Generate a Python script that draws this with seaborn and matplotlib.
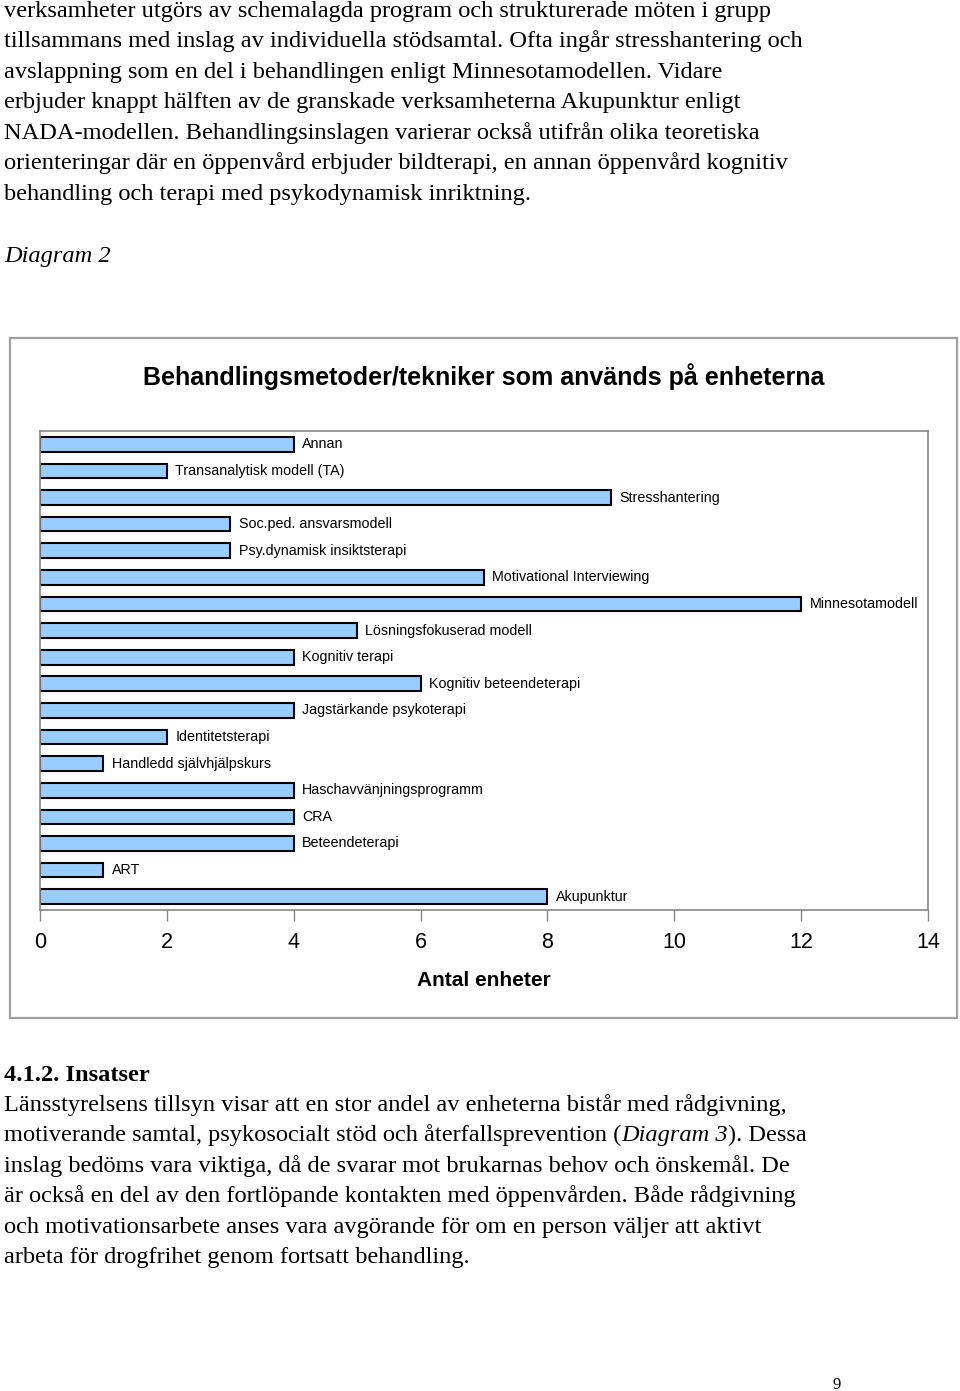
import matplotlib
matplotlib.use('Agg')
import matplotlib.pyplot as plt
import seaborn as sns
import pandas as pd
from matplotlib.patches import Rectangle

# DATA
methods = ['Annan', 'Transanalytisk modell (TA)', 'Stresshantering', 'Soc.ped. ansvarsmodell',
           'Psy.dynamisk insiktsterapi', 'Motivational Interviewing', 'Minnesotamodell',
           'Lösningsfokuserad modell', 'Kognitiv terapi', 'Kognitiv beteendeterapi',
           'Jagstärkande psykoterapi', 'Identitetsterapi', 'Handledd självhjälpskurs',
           'Haschavvänjningsprogramm', 'CRA', 'Beteendeterapi', 'ART', 'Akupunktur']
counts = [4, 2, 9, 3, 3, 7, 12, 5, 4, 6, 4, 2, 1, 4, 4, 4, 1, 8]
x_ticks = [0, 2, 4, 6, 8, 10, 12, 14]

title = 'Behandlingsmetoder/tekniker som används på enheterna'
x_label = 'Antal enheter'

para_top = [
    'verksamheter utgörs av schemalagda program och strukturerade möten i grupp',
    'tillsammans med inslag av individuella stödsamtal. Ofta ingår stresshantering och',
    'avslappning som en del i behandlingen enligt Minnesotamodellen. Vidare',
    'erbjuder knappt hälften av de granskade verksamheterna Akupunktur enligt',
    'NADA-modellen. Behandlingsinslagen varierar också utifrån olika teoretiska',
    'orienteringar där en öppenvård erbjuder bildterapi, en annan öppenvård kognitiv',
    'behandling och terapi med psykodynamisk inriktning.',
]
para_bottom = [
    'Länsstyrelsens tillsyn visar att en stor andel av enheterna bistår med rådgivning,',
    None,  # mixed italic line, handled below
    'inslag bedöms vara viktiga, då de svarar mot brukarnas behov och önskemål. De',
    'är också en del av den fortlöpande kontakten med öppenvården. Både rådgivning',
    'och motivationsarbete anses vara avgörande för om en person väljer att aktivt',
    'arbeta för drogfrihet genom fortsatt behandling.',
]
mixed_line = ['motiverande samtal, psykosocialt stöd och återfallsprevention (', 'Diagram 3', '). Dessa']

df = pd.DataFrame({'Metod': methods, 'Antal': counts})

W, H = 960, 1391
fig = plt.figure(figsize=(W / 100, H / 100), dpi=100)
fig.patch.set_facecolor('white')

SERIF = ['Liberation Serif', 'DejaVu Serif']
SANS = ['Liberation Sans', 'DejaVu Sans']
BODY_FS = 17.6

def fy(px):
    return 1 - px / H

def fx(px):
    return px / W

# body text above chart
for i, line in enumerate(para_top):
    fig.text(fx(4), fy(17 + i * 30.45), line, family=SERIF, fontsize=BODY_FS, va='baseline', ha='left')
fig.text(fx(4), fy(262), 'Diagram 2', family=SERIF, fontsize=BODY_FS, style='italic', va='baseline')

# chart frame
frame = Rectangle((fx(10), fy(1018)), fx(947), (1018 - 338) / H, transform=fig.transFigure,
                  facecolor='none', edgecolor='#a0a0a0', linewidth=1.6, zorder=-1)
fig.add_artist(frame)

fig.text(fx(484), fy(377), title, family=SANS, fontsize=18, fontweight='bold', ha='center', va='center')

# chart axes
ax = fig.add_axes([fx(40), fy(910), fx(928 - 40), (910 - 431) / H])
sns.barplot(data=df, x='Antal', y='Metod', orient='h', color='#99CCFF', saturation=1,
            edgecolor='black', linewidth=1.5, width=0.55, ax=ax)
ax.bar_label(ax.containers[0], labels=methods, padding=6, fontsize=10.3, family=SANS)
ax.set_xlim(0, 14)
ax.set_ylim(len(methods) - 0.5, -0.5)
ax.set_xticks(x_ticks)
ax.set_xticklabels([str(t) for t in x_ticks], family=SANS, fontsize=15.5)
ax.tick_params(axis='x', direction='out', length=8, width=1, color='#888888', pad=8)
ax.set_yticks([])
ax.set_ylabel('')
ax.set_xlabel(x_label, family=SANS, fontsize=15, fontweight='bold', labelpad=13)
for side in ['top', 'right', 'bottom', 'left']:
    ax.spines[side].set_visible(True)
    ax.spines[side].set_color('#888888')
    ax.spines[side].set_linewidth(1.2)
ax.set_facecolor('white')

# body text below chart
fig.text(fx(4), fy(1081), '4.1.2. Insatser', family=SERIF, fontsize=BODY_FS, fontweight='bold', va='baseline')
renderer = fig.canvas.get_renderer()
for i, line in enumerate(para_bottom):
    y = fy(1111 + i * 30.4)
    if line is not None:
        fig.text(fx(4), y, line, family=SERIF, fontsize=BODY_FS, va='baseline')
    else:
        x = fx(4)
        for j, part in enumerate(mixed_line):
            t = fig.text(x, y, part, family=SERIF, fontsize=BODY_FS, va='baseline',
                         style='italic' if j == 1 else 'normal')
            bb = t.get_window_extent(renderer=renderer)
            x = bb.x1 / W

fig.text(fx(837), fy(1389), '9', family=SERIF, fontsize=12, va='baseline', ha='center')

plt.savefig('out.png', dpi=100, facecolor='white')
